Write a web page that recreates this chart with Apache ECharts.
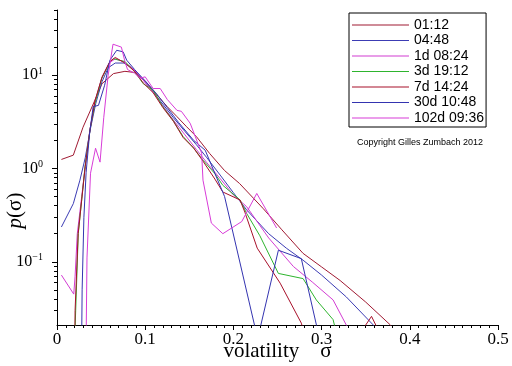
<!DOCTYPE html>
<html>
<head>
<meta charset="utf-8">
<script src="https://cdn.jsdelivr.net/npm/echarts@6/dist/echarts.min.js"></script>
<style>
  html, body { margin: 0; padding: 0; background: #fff; }
  #chart { width: 512px; height: 366px; }
</style>
</head>
<body>
<div id="chart"></div>
<script>
// legend names, one per curve
const names = ['01:12', '04:48', '1d 08:24', '3d 19:12', '7d 14:24', '30d 10:48', '102d 09:36'];
const colors = ['#a01a32', '#3c3cb4', '#d23cd2', '#2eb42e', '#a8102a', '#3434b0', '#d83cd8'];

// [volatility, p(sigma)]
const s0112 = [[0.005,1.25],[0.0185,1.39],[0.0295,2.77],[0.043,5.4],[0.051,8.1],[0.064,10.4],[0.077,11],[0.088,10.7],
  [0.1,8.6],[0.113,6.2],[0.125,4.6],[0.136,3.6],[0.147,2.8],[0.158,2.2],[0.173,1.45],[0.19,0.95],[0.207,0.69],
  [0.234,0.37],[0.255,0.22],[0.279,0.123],[0.3,0.088],[0.321,0.063],[0.35,0.037],[0.378,0.021],[0.385,0.015]];
const s0448 = [[0.005,0.236],[0.0185,0.42],[0.026,0.75],[0.032,1.3],[0.038,2.7],[0.044,5],[0.051,8.5],[0.058,12],
  [0.066,13.5],[0.076,13.5],[0.085,12],[0.095,9.5],[0.107,7],[0.12,4.9],[0.132,3.5],[0.145,2.5],[0.158,1.8],
  [0.17,1.3],[0.185,0.85],[0.2,0.55],[0.215,0.36],[0.24,0.2],[0.26,0.14],[0.279,0.104],[0.3,0.072],[0.328,0.042],
  [0.3586,0.021],[0.365,0.016]];
const s1d = [[0.005,0.072],[0.019,0.045],[0.0205,0.07],[0.023,0.2],[0.028,0.5],[0.032,1.05],[0.037,2.5],[0.043,5.2],
  [0.051,9.5],[0.059,13.5],[0.066,15],[0.075,14],[0.085,12],[0.095,9.5],[0.107,7],[0.12,4.7],[0.132,3.3],[0.145,2.3],
  [0.158,1.6],[0.17,1.15],[0.185,0.78],[0.2,0.52],[0.215,0.39],[0.24,0.18],[0.268,0.089],[0.29,0.06],[0.313,0.039],
  [0.328,0.021],[0.333,0.015]];
const s3d = [[0.0195,0.01],[0.0241,0.2],[0.028,0.46],[0.0317,1.03],[0.0374,2.6],[0.0431,5],[0.0507,9.2],[0.0601,14],
  [0.0638,15],[0.0771,14],[0.0884,10.8],[0.0978,8.1],[0.109,6.9],[0.12,4.6],[0.1315,3.3],[0.143,2.2],[0.154,1.7],
  [0.1655,1.23],[0.179,0.88],[0.188,0.66],[0.2075,0.46],[0.215,0.33],[0.23,0.19],[0.251,0.075],[0.279,0.066],
  [0.294,0.039],[0.313,0.024],[0.321,0.012]];
const s7d = [[0.0198,0.005],[0.0205,0.03],[0.024,0.2],[0.028,0.46],[0.032,1.05],[0.0374,2.6],[0.043,5.3],[0.051,9.5],
  [0.06,14],[0.066,15.5],[0.077,13.5],[0.088,11],[0.098,8.2],[0.109,6.5],[0.12,4.5],[0.132,3.2],[0.143,2.15],
  [0.155,1.65],[0.1655,1.2],[0.179,0.77],[0.188,0.56],[0.2075,0.46],[0.213,0.34],[0.227,0.14],[0.253,0.059],
  [0.277,0.022],[0.29,0.008],[0.345,0.01],[0.3485,0.02],[0.3566,0.026],[0.3625,0.02],[0.366,0.01]];
const s30d = [[0.0275,0.005],[0.0285,0.05],[0.0305,0.3],[0.033,0.9],[0.037,2.4],[0.041,4.6],[0.047,4.75],[0.054,7.8],
  [0.06,14.5],[0.0677,18.5],[0.075,17.8],[0.079,14.5],[0.088,11.5],[0.1,8.7],[0.113,6.3],[0.125,4.5],[0.138,3.1],
  [0.155,2.0],[0.168,1.57],[0.19,0.5],[0.2275,0.015],[0.251,0.133],[0.277,0.108],[0.3,0.012]];
const s102d = [[0.0325,0.005],[0.034,0.11],[0.038,0.89],[0.0437,1.65],[0.0488,1.17],[0.053,3.5],[0.058,10],
  [0.0635,21.5],[0.073,20],[0.077,14],[0.08,11.5],[0.088,10.5],[0.094,9.3],[0.1,9.6],[0.109,7.2],[0.117,7.2],
  [0.125,5.5],[0.136,4.2],[0.141,4.1],[0.151,3.05],[0.164,1.46],[0.1655,0.75],[0.175,0.26],[0.188,0.2],
  [0.2095,0.27],[0.2265,0.54],[0.249,0.23]];
const curves = [s0112, s0448, s1d, s3d, s7d, s30d, s102d];

// axes
const yMin = 0.021, yMax = 50;
const yMajor = [-1, 0, 1];
const yMinor = [];
[-2, -1, 0, 1].forEach(d => { for (let k = 2; k <= 9; k++) yMinor.push(d + Math.log10(k)); });

const serif = 'Liberation Serif';
const chart = echarts.init(document.getElementById('chart'));

const logBound = { min: Math.log10(yMin), max: Math.log10(yMax) };

chart.setOption({
  animation: false,
  backgroundColor: '#fff',
  grid: { left: 57, right: 14, top: 10, bottom: 41, containLabel: false, outerBoundsMode: 'none' },
  legend: {
    orient: 'vertical',
    left: 349, top: 13,
    padding: [5, 2, 2, 3],
    borderColor: '#000', borderWidth: 1,
    icon: 'rect', itemWidth: 57, itemHeight: 1.2, itemGap: 1.5,
    textStyle: { fontFamily: 'Liberation Sans', fontSize: 14, color: '#000', width: 70, align: 'right', lineHeight: 14 },
    data: names
  },
  graphic: [{
    type: 'text', left: 357, top: 138,
    style: { text: 'Copyright Gilles Zumbach 2012', fontFamily: 'Liberation Sans', fontSize: 9, fill: '#000' }
  }],
  xAxis: {
    type: 'value', min: 0, max: 0.5, interval: 0.1,
    name: 'volatility    σ', nameLocation: 'middle', nameGap: 16, nameMoveOverlap: false,
    nameTextStyle: { fontFamily: serif, fontSize: 21, color: '#000' },
    axisLine: { onZero: false, lineStyle: { color: '#000', width: 1 } },
    axisTick: { length: 5, lineStyle: { color: '#000' } },
    minorTick: { show: true, splitNumber: 10, length: 3, lineStyle: { color: '#000' } },
    axisLabel: { fontFamily: serif, fontSize: 17, color: '#000', margin: 6 },
    splitLine: { show: false }
  },
  yAxis: [
    { type: 'log', position: 'left', min: yMin, max: yMax, show: false },
    {
      type: 'value', position: 'left', offset: 0, min: logBound.min, max: logBound.max,
      name: '{i|p}(σ)', nameLocation: 'middle', nameGap: 31, nameMoveOverlap: false,
      nameTextStyle: { fontFamily: serif, fontSize: 21, color: '#000', padding: [0, 86, 0, 0],
        rich: { i: { fontFamily: serif, fontSize: 21, fontStyle: 'italic' } } },
      axisLine: { show: true, onZero: false, lineStyle: { color: '#000', width: 1 } },
      axisTick: { length: 5, customValues: yMajor, lineStyle: { color: '#000' } },
      axisLabel: {
        customValues: yMajor, margin: 14, color: '#000',
        formatter: v => {
          const n = Math.round(v);
          return '{b|10}{s|' + (n < 0 ? '−' + (-n) : n) + '}';
        },
        rich: {
          b: { fontFamily: serif, fontSize: 16, color: '#000' },
          s: { fontFamily: serif, fontSize: 10, color: '#000', verticalAlign: 'top', padding: [0, 0, 8, 0] }
        }
      },
      splitLine: { show: false }
    },
    {
      type: 'value', position: 'left', offset: 0, min: logBound.min, max: logBound.max,
      axisLine: { show: false, onZero: false },
      axisTick: { length: 3, customValues: yMinor, lineStyle: { color: '#000' } },
      axisLabel: { show: false },
      splitLine: { show: false }
    }
  ],
  series: curves.map((d, i) => ({
    name: names[i],
    type: 'line',
    yAxisIndex: 0,
    data: d,
    showSymbol: false,
    symbol: 'none',
    lineStyle: { color: colors[i], width: 1 },
    itemStyle: { color: colors[i] },
    clip: true
  }))
});
</script>
</body>
</html>
